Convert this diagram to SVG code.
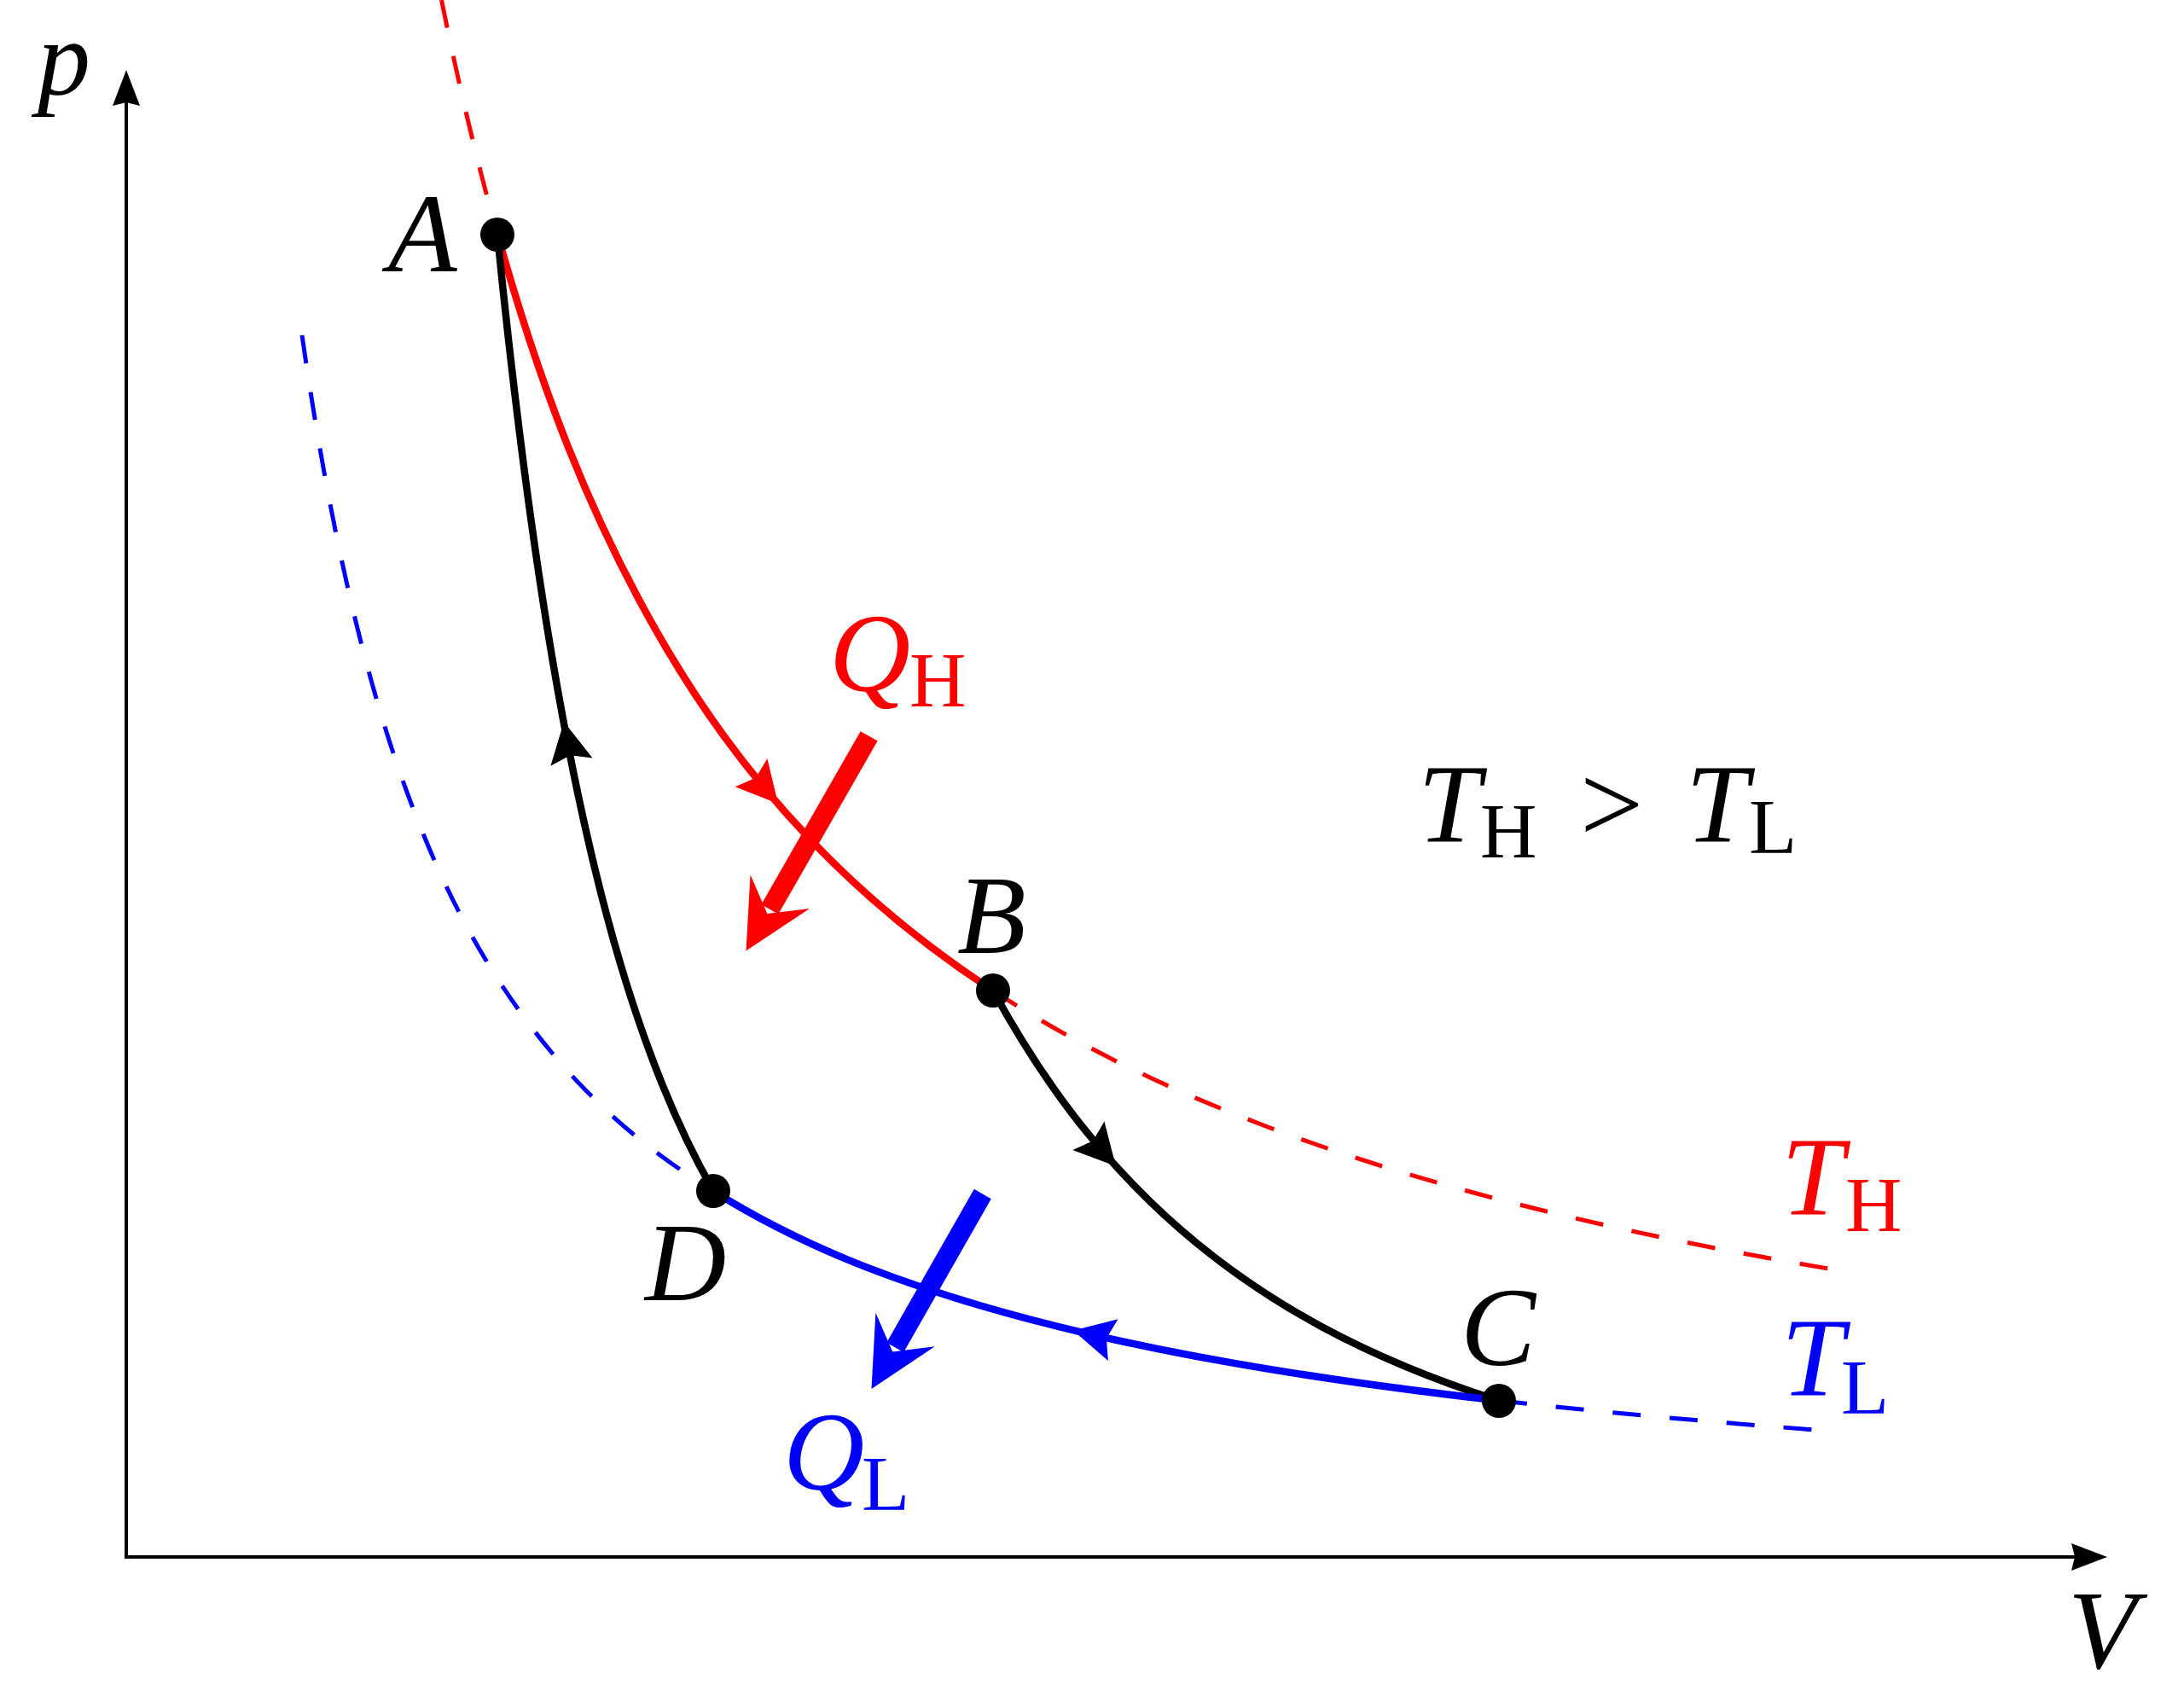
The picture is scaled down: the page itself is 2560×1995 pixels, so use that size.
<svg xmlns="http://www.w3.org/2000/svg" width="2560" height="1995" viewBox="0 0 2560 1995">
<style>
.it{font-family:"Liberation Serif","DejaVu Serif",serif;font-style:italic;font-size:132px}
.rm{font-family:"Liberation Serif","DejaVu Serif",serif;font-size:132px}
.sb{font-family:"Liberation Serif","DejaVu Serif",serif;font-size:92px}
.dash{fill:none;stroke-width:5;stroke-dasharray:33 34}
.solid{fill:none;stroke-width:8.5;stroke-linecap:round}
.red{stroke:#ff0000}
.blue{stroke:#0000ff}
.blk{stroke:#000000}
</style>
<defs>
<path id="axhead" d="M0,0 L-42,-16 L-38,0 L-42,16 Z"/>
<path id="midhead" d="M0,0 L-48,-25 L-40,0 L-48,25 Z"/>
<path id="bighead" d="M0,0 L-80,-40 L-50,0 L-80,40 Z"/>
</defs>
<rect width="2560" height="1995" fill="#ffffff"/>

<g id="axes">
<line x1="148" y1="1825" x2="148" y2="100" stroke="#000" stroke-width="4"/>
<line x1="146" y1="1825" x2="2440" y2="1825" stroke="#000" stroke-width="4"/>
<use href="#axhead" transform="translate(148,82) rotate(-90)" fill="#000"/>
<use href="#axhead" transform="translate(2470,1825)" fill="#000"/>
<text class="it" x="44" y="110" style="font-size:124px">p</text>
<text class="it" x="2424" y="1955">V</text>
</g>

<g id="isotherms">
<path class="dash red" d="M517.5,0 C539.3,107.8 561.2,196.9 583,274.7"/>
<path class="dash red" d="M1164,1161.2 C1258.7,1223 1353.3,1268.4 1448,1306.2 C1564.7,1352.8 1681.3,1387.4 1798,1416.3 C1918,1446 2038,1469.5 2158,1489.5"/>
<path class="dash blue" d="M354,393 C372,518.1 390,611.8 408,690.4 C434.7,806.8 461.3,889.3 488,957.4 C528,1059.5 568,1127.9 608,1183.7 C684,1289.6 760,1348.8 836,1396.2"/>
<path class="dash blue" d="M1757,1641.7 C1882,1655.9 2007,1666.9 2132,1676.3"/>
<text class="it" x="2088" y="1424" fill="#ff0000">T</text>
<text class="sb" x="2163" y="1443" fill="#ff0000">H</text>
<text class="it" x="2088" y="1636" fill="#0000ff">T</text>
<text class="sb" x="2158" y="1657" fill="#0000ff">L</text>
</g>

<g id="connectors">
<path id="AB" class="solid red" d="M583,274.7 C638,470.7 693,598 748,701 C814.7,825.9 881.3,911.7 948,982 C1020,1057.9 1092,1114.2 1164,1161.2"/>
<path id="BC" class="solid blk" d="M1164,1161 C1225.33,1273.2 1286.67,1348.7 1348,1408.3 C1414.67,1473.1 1481.33,1518.3 1548,1554.4 C1617.67,1592.1 1687.33,1619.5 1757,1641.7"/>
<path id="CD" class="solid blue" d="M836,1396.2 C940,1461 1044,1499.3 1148,1530 C1248,1559.5 1348,1580.65 1448,1598.1 C1551,1616.1 1654,1630 1757,1641.7"/>
<path id="DA" class="solid blk" d="M583,275 C604.67,491.2 626.33,648.1 648,775.5 C674.67,932.2 701.33,1043.2 728,1132.4 C764,1252.8 800,1332.6 836,1395.5"/>
<use href="#midhead" transform="translate(912,942) rotate(49)" fill="#ff0000"/>
<use href="#midhead" transform="translate(1308,1367) rotate(48)" fill="#000"/>
<use href="#midhead" transform="translate(1258,1559.5) rotate(193.4)" fill="#0000ff"/>
<use href="#midhead" transform="translate(661,846) rotate(-100.8)" fill="#000"/>
</g>

<g id="heat-in">
<g transform="translate(874.5,1114.5) rotate(119.8)">
<line x1="-290" y1="0" x2="-56" y2="0" stroke="#ff0000" stroke-width="23"/>
<use href="#bighead" fill="#ff0000"/>
</g>
<text class="it" x="972" y="810" fill="#ff0000">Q</text>
<text class="sb" x="1066" y="828" fill="#ff0000">H</text>
</g>

<g id="heat-out">
<g transform="translate(1021.5,1628) rotate(119.7)">
<line x1="-263" y1="0" x2="-56" y2="0" stroke="#0000ff" stroke-width="23"/>
<use href="#bighead" fill="#0000ff"/>
</g>
<text class="it" x="918" y="1746" fill="#0000ff">Q</text>
<text class="sb" x="1010" y="1770" fill="#0000ff">L</text>
</g>

<g id="node-A">
<circle cx="583" cy="275" r="20" fill="#000"/>
<text class="it" x="455" y="318">A</text>
</g>
<g id="node-B">
<circle cx="1164" cy="1161" r="20" fill="#000"/>
<text class="it" x="1122" y="1117">B</text>
</g>
<g id="node-C">
<circle cx="1757" cy="1642" r="20" fill="#000"/>
<text class="it" x="1712" y="1600">C</text>
</g>
<g id="node-D">
<circle cx="836" cy="1396" r="20" fill="#000"/>
<text class="it" x="756" y="1524">D</text>
</g>

<g id="relation">
<text class="it" x="1662" y="987">T</text>
<text class="sb" x="1735" y="1005">H</text>
<text class="rm" x="1852" y="987">&gt;</text>
<text class="it" x="1976" y="987">T</text>
<text class="sb" x="2050" y="1000">L</text>
</g>
</svg>
